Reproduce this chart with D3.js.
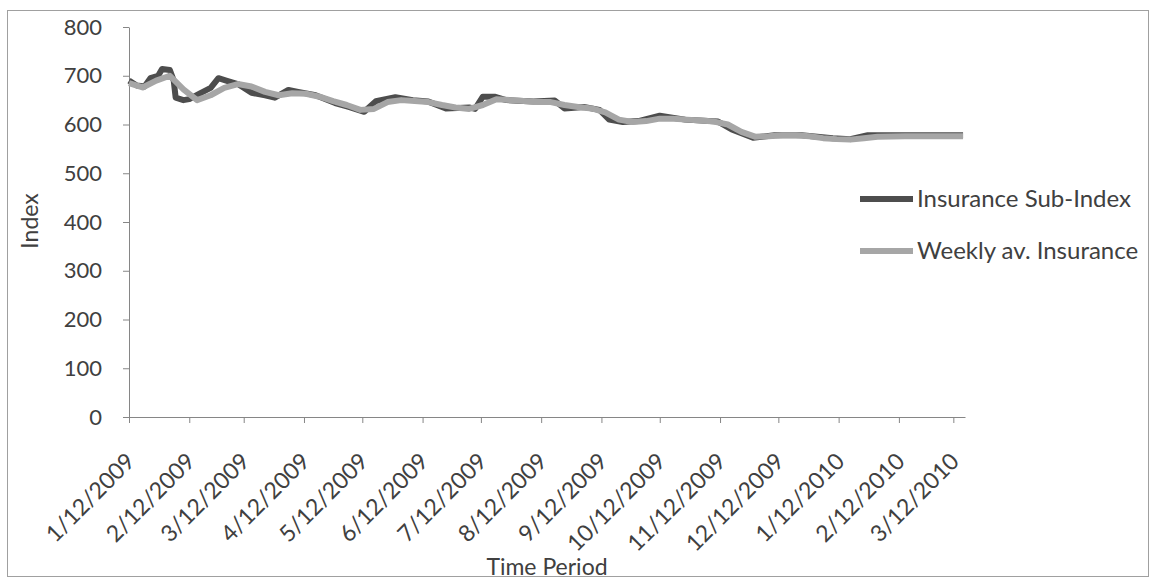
<!DOCTYPE html>
<html>
<head>
<meta charset="utf-8">
<script src="https://cdn.jsdelivr.net/npm/d3@7"></script>
<style>
  html, body { margin: 0; padding: 0; background: #fff; }
  svg { display: block; font-family: Lato, "Open Sans", sans-serif; }
</style>
</head>
<body>
<svg id="chart" width="1156" height="581"></svg>
<script>
// ---- Data ----
const seriesNames = ["Insurance Sub-Index", "Weekly av. Insurance"];

const insuranceDates = [
  "2009-01-12","2009-01-16","2009-01-20","2009-01-23","2009-01-27","2009-01-29","2009-02-02","2009-02-04",
  "2009-02-05","2009-02-09","2009-02-12","2009-02-18","2009-02-23","2009-02-27","2009-03-03","2009-03-09",
  "2009-03-16","2009-03-23","2009-03-28","2009-04-04","2009-04-09","2009-04-18","2009-04-28","2009-05-05",
  "2009-05-13","2009-05-19","2009-05-29","2009-06-07","2009-06-15","2009-06-24","2009-07-06","2009-07-09",
  "2009-07-13","2009-07-19","2009-07-25","2009-08-08","2009-08-19","2009-08-24","2009-09-03","2009-09-11",
  "2009-09-16","2009-09-23","2009-10-01","2009-10-12","2009-10-25","2009-11-11","2009-11-18","2009-11-29",
  "2009-12-10","2009-12-24","2010-01-09","2010-01-18","2010-01-27","2010-02-13","2010-02-28","2010-03-17"
];
const insuranceValues = [
  690, 680, 678, 695, 700, 714, 712, 690,
  655, 650, 652, 665, 675, 695, 690, 683,
  665, 660, 655, 671, 667, 660, 644, 636,
  626, 648, 656, 650, 647, 633, 635, 632,
  657, 657, 650, 647, 649, 633, 636, 630,
  610, 605, 607, 618, 610, 606, 590, 573,
  578, 578, 572, 570, 578, 578, 578, 578
];

const weeklyDates = [
  "2009-01-12","2009-01-19","2009-01-26","2009-02-02","2009-02-09","2009-02-16","2009-02-23","2009-03-02",
  "2009-03-09","2009-03-16","2009-03-23","2009-03-30","2009-04-06","2009-04-13","2009-04-20","2009-04-27",
  "2009-05-04","2009-05-11","2009-05-18","2009-05-25","2009-06-01","2009-06-08","2009-06-15","2009-06-22",
  "2009-06-29","2009-07-06","2009-07-13","2009-07-20","2009-07-27","2009-08-03","2009-08-10","2009-08-17",
  "2009-08-24","2009-08-31","2009-09-07","2009-09-14","2009-09-21","2009-09-28","2009-10-05","2009-10-12",
  "2009-10-19","2009-10-26","2009-11-02","2009-11-09","2009-11-16","2009-11-23","2009-11-30","2009-12-07",
  "2009-12-14","2009-12-21","2009-12-28","2010-01-04","2010-01-11","2010-01-18","2010-01-25","2010-02-01",
  "2010-02-15","2010-03-01","2010-03-17"
];
const weeklyValues = [
  685, 676, 690, 700, 672, 650, 660, 675,
  683, 678, 667, 660, 664, 663, 657, 648,
  640, 630, 632, 646, 650, 648, 646, 640,
  635, 632, 640, 652, 650, 648, 646, 646,
  640, 636, 633, 625, 610, 605, 607, 612,
  612, 610, 608, 606, 600, 585, 575, 576,
  578, 578, 576, 572, 570, 569, 572, 575,
  576, 576, 576
];

const xTickDates = [
  "2009-01-12","2009-02-12","2009-03-12","2009-04-12","2009-05-12","2009-06-12","2009-07-12","2009-08-12",
  "2009-09-12","2009-10-12","2009-11-12","2009-12-12","2010-01-12","2010-02-12","2010-03-12"
];
const yTicks = [0, 100, 200, 300, 400, 500, 600, 700, 800];
const xDomain = ["2009-01-12", "2010-03-18"];

// ---- Setup ----
const parse = d3.timeParse("%Y-%m-%d");
const fmt = d3.timeFormat("%-m/%d/%Y");
const svg = d3.select("#chart");

const x = d3.scaleTime().domain(xDomain.map(parse)).range([129, 965]);
const y = d3.scaleLinear().domain([0, 800]).range([417, 27]);

const axisColor = "#868686";
const textColor = "#404040";

// frame
svg.append("rect").attr("x", 7.5).attr("y", 10.5).attr("width", 1141).attr("height", 566)
  .attr("fill", "none").attr("stroke", "#a0a0a0").attr("stroke-width", 1);

// y axis
const yAxis = svg.append("g").attr("transform", "translate(129,0)")
  .call(d3.axisLeft(y).tickValues(yTicks).tickSize(6).tickSizeOuter(0).tickPadding(21));
yAxis.selectAll("path,line").attr("stroke", axisColor);
yAxis.selectAll("text").attr("fill", textColor).style("font-size", "22px").style("font-family", "Lato, sans-serif");

// x axis
const xAxis = svg.append("g").attr("transform", "translate(0,417)")
  .call(d3.axisBottom(x).tickValues(xTickDates.map(parse)).tickFormat(fmt).tickSize(6).tickSizeOuter(0));
xAxis.selectAll("path,line").attr("stroke", axisColor);
xAxis.selectAll("text")
  .attr("fill", textColor).style("font-size", "23px").style("font-family", "Lato, sans-serif")
  .attr("text-anchor", "end")
  .attr("x", 0).attr("y", 0)
  .attr("dy", "0.35em")
  .attr("transform", "translate(1,40) rotate(-45)");

// axis titles
svg.append("text").attr("transform", "translate(38,221) rotate(-90)").attr("text-anchor", "middle")
  .attr("fill", textColor).style("font-size", "23px").text("Index");
svg.append("text").attr("x", 547).attr("y", 575).attr("text-anchor", "middle")
  .attr("fill", textColor).style("font-size", "23px").text("Time Period");

// lines
const line = d3.line().x(d => x(d.date)).y(d => y(d.value)).curve(d3.curveLinear);
const insData = insuranceDates.map((d, i) => ({ date: parse(d), value: insuranceValues[i] }));
const wkData = weeklyDates.map((d, i) => ({ date: parse(d), value: weeklyValues[i] }));

const colors = ["#4d4d4d", "#a6a6a6"];
svg.append("path").datum(insData).attr("d", line).attr("fill", "none")
  .attr("stroke", colors[0]).attr("stroke-width", 6).attr("stroke-linejoin", "round");
svg.append("path").datum(wkData).attr("d", line).attr("fill", "none")
  .attr("stroke", colors[1]).attr("stroke-width", 6).attr("stroke-linejoin", "round");

// legend
const legY = [199, 251];
seriesNames.forEach((name, i) => {
  svg.append("line").attr("x1", 860).attr("x2", 913).attr("y1", legY[i]).attr("y2", legY[i])
    .attr("stroke", colors[i]).attr("stroke-width", 6);
  svg.append("text").attr("x", 917).attr("y", legY[i]).attr("dy", "0.35em")
    .attr("fill", textColor).style("font-size", "24px").text(name);
});
</script>
</body>
</html>
